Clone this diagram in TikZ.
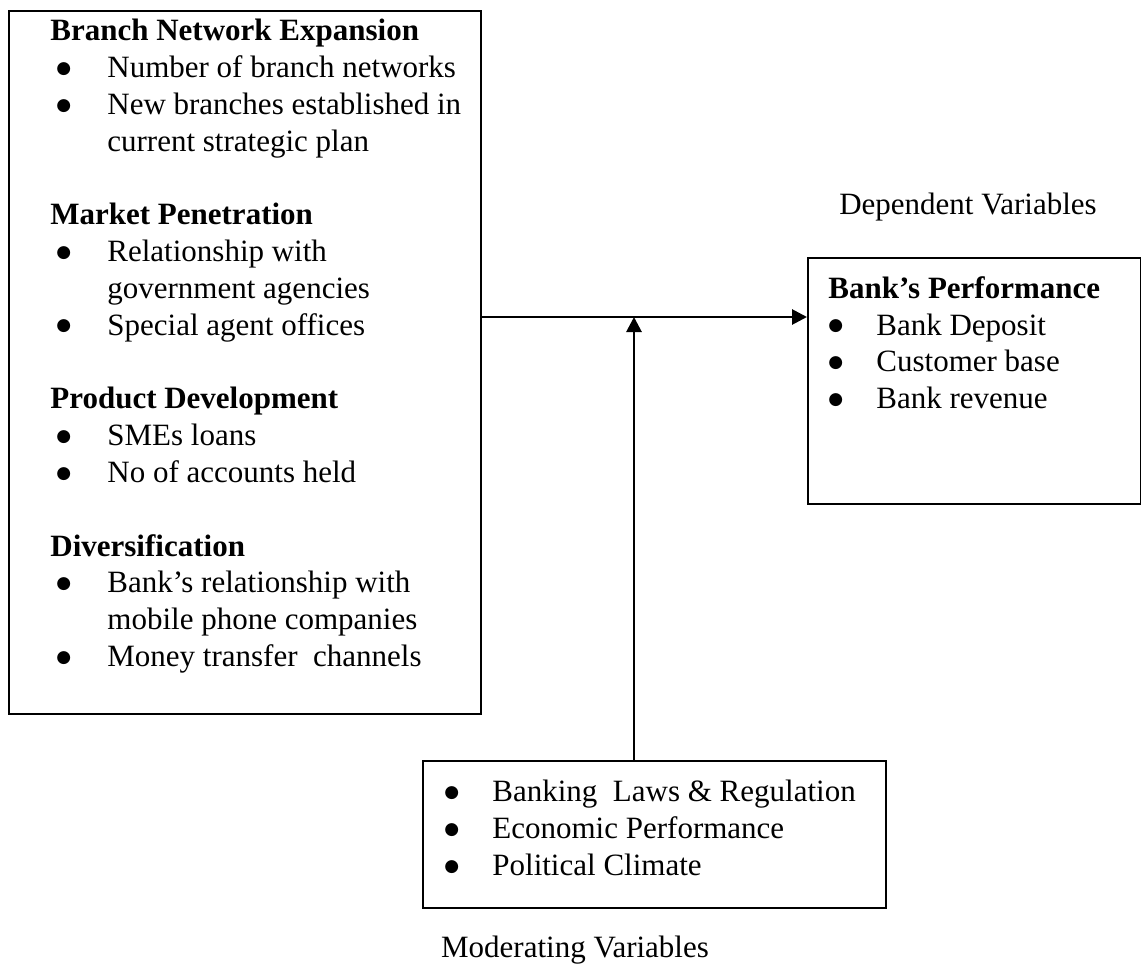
\documentclass[tikz,border=0pt]{standalone}
\usepackage{fontspec}
\setmainfont{Liberation Serif}
\newfontfamily\dotfont{DejaVu Sans}
\usetikzlibrary{arrows.meta,positioning}
\newcommand{\bdot}{\raisebox{2.2pt}{\dotfont\fontsize{8.5}{8.5}\selectfont ●}}
\newcommand{\bitem}[2][24pt]{\makebox[#1][l]{\bdot}#2}
\newcommand{\bcont}[2][24pt]{\hspace*{#1}#2}
\newcommand{\lind}{\hspace*{3pt}}
\tikzset{
  varbox/.style={draw,line width=0.9pt,anchor=north west,inner sep=0pt},
  txt/.style={anchor=north west,inner sep=0pt,align=left,
              font=\fontsize{15.5}{18.4}\selectfont},
  lab/.style={inner sep=0pt,font=\fontsize{15.5}{18.4}\selectfont},
  ar/.style={-{Triangle[length=7.5pt,width=7.5pt]},line width=1.4pt},
}
\begin{document}
\begin{tikzpicture}[x=0.5pt,y=-0.5pt]
\useasboundingbox (0,0) rectangle (1141,969);
% boxes
\node[varbox,minimum width=236pt,minimum height=351.5pt] (ind) at (8,10) {};
\node[varbox,minimum width=166.5pt,minimum height=123pt] (dep) at (807,257) {};
\node[varbox,minimum width=231.5pt,minimum height=73.5pt] (mod) at (422,760) {};
% box contents
\node[txt,below right=4.5pt and 21pt of ind.north west] (indtxt) {%
  \textbf{Branch Network Expansion}\\
  \lind\bitem[25.5pt]{Number of branch networks}\\
  \lind\bitem[25.5pt]{New branches established in}\\
  \lind\bcont[25.5pt]{current strategic plan}\\[18.4pt]
  \textbf{Market Penetration}\\
  \lind\bitem[25.5pt]{Relationship with}\\
  \lind\bcont[25.5pt]{government agencies}\\
  \lind\bitem[25.5pt]{Special agent offices}\\[18.4pt]
  \textbf{Product Development}\\
  \lind\bitem[25.5pt]{SMEs loans}\\
  \lind\bitem[25.5pt]{No of accounts held}\\[18.4pt]
  \textbf{Diversification}\\
  \lind\bitem[25.5pt]{Bank’s relationship with}\\
  \lind\bcont[25.5pt]{mobile phone companies}\\
  \lind\bitem[25.5pt]{Money transfer\ \ channels}};
\node[txt,below right=9.5pt and 10.5pt of dep.north west] (deptxt) {%
  \textbf{Bank’s Performance}\\
  \bitem{Bank Deposit}\\
  \bitem{Customer base}\\
  \bitem{Bank revenue}};
\node[txt,below right=10pt and 11pt of mod.north west] (modtxt) {%
  \bitem{Banking\ \ Laws \& Regulation}\\
  \bitem{Economic Performance}\\
  \bitem{Political Climate}};
% labels
\node[lab] (deplab) at (968,207) {Dependent Variables};
\node[lab] (modlab) at (575,950) {Moderating Variables};
% connectors
\coordinate (jn) at (634,317);
\draw[ar] (ind.east |- jn) -- (dep.west |- jn);
\draw[ar] (mod.north -| jn) -- (jn);
\end{tikzpicture}
\end{document}
